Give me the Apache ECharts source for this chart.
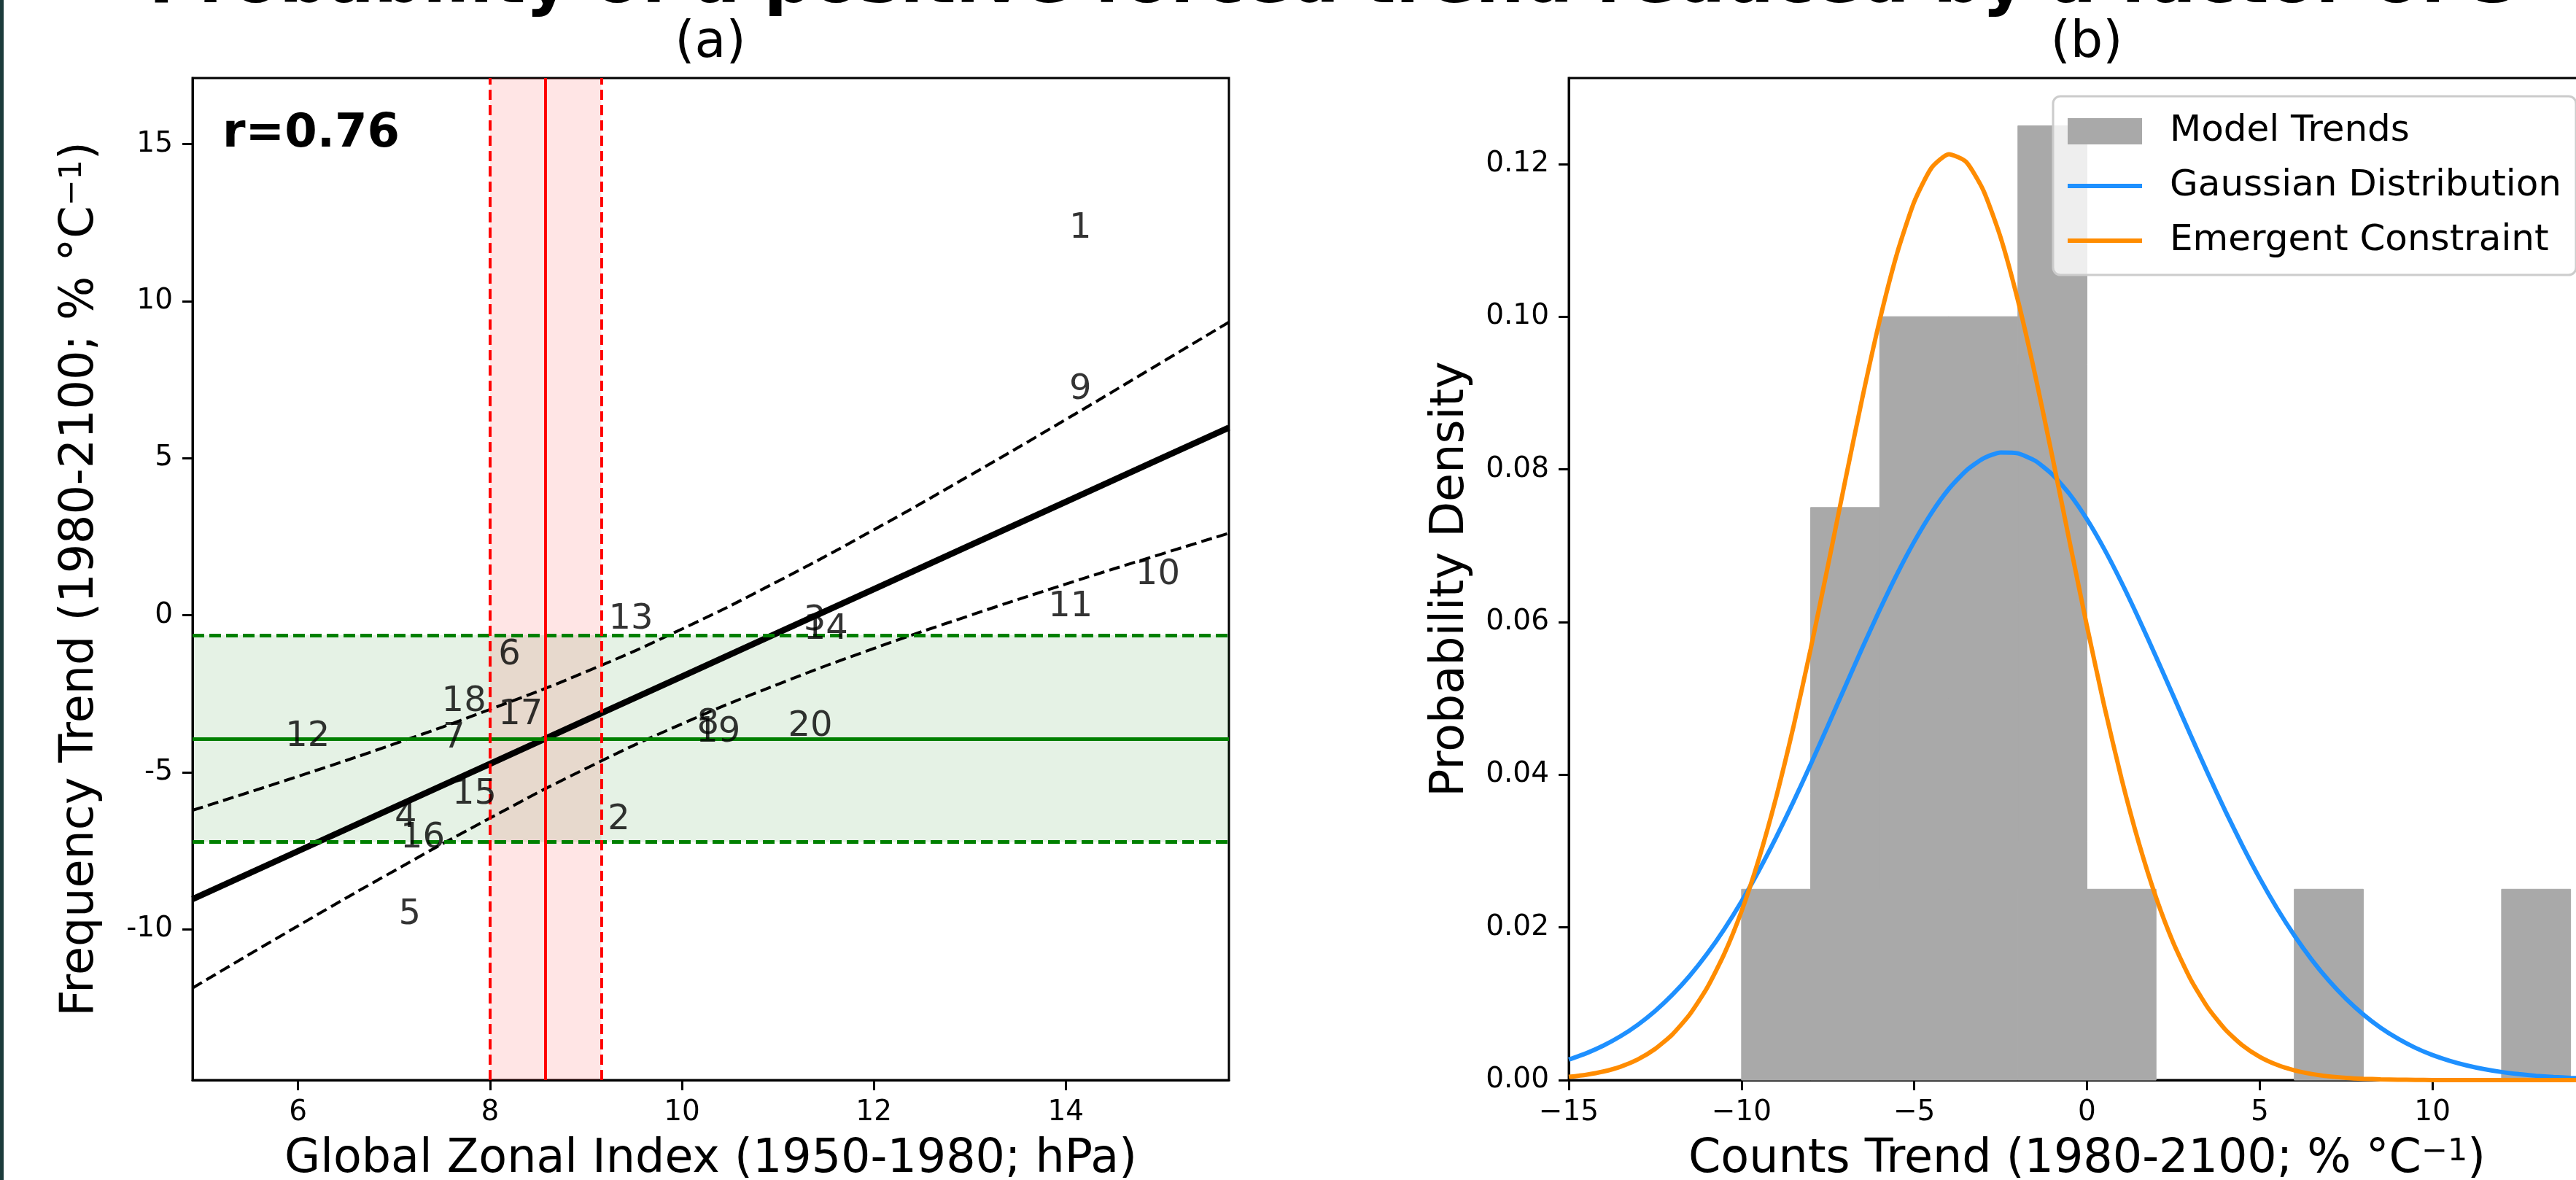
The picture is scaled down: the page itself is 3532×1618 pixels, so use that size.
<!DOCTYPE html>
<html>
<head>
<meta charset="utf-8">
<script src="https://cdn.jsdelivr.net/npm/echarts@6/dist/echarts.min.js"></script>
<style>
html,body{margin:0;padding:0;background:#fff;}
#main{width:3532px;height:1618px;}
</style>
</head>
<body>
<div id="main"></div>
<script>
// ---------------- panel (a): model scatter + regression ----------------
const modelNames = ['1','2','3','4','5','6','7','8','9','10','11','12','13','14','15','16','17','18','19','20'];
const zonalIndex = [14.04, 9.23, 11.27, 7.01, 7.05, 8.09, 7.51, 10.16, 14.04, 14.73, 13.82, 5.87, 9.24, 11.27, 7.61, 7.07, 8.09, 7.50, 10.15, 11.11];
const freqTrend  = [12.04, -6.79, -0.45, -6.72, -9.82, -1.55, -4.20, -3.75, 6.90, 1.00, -0.02, -4.15, -0.40, -0.72, -5.98, -7.38, -3.45, -3.02, -4.01, -3.82];

// regression line and its dashed envelope
const fitX     = [4.9, 6, 7, 8, 9, 10, 11, 12, 13, 14, 15, 15.7];
const fitLine  = [-9.04, -7.51, -6.12, -4.73, -3.34, -1.95, -0.56, 0.83, 2.22, 3.61, 5.00, 5.97];
const fitUpper = [-6.21, -5.13, -4.10, -3.00, -1.80, -0.44, 1.08, 2.72, 4.45, 6.23, 8.05, 9.33];
const fitLower = [-11.87, -9.89, -8.14, -6.46, -4.88, -3.46, -2.20, -1.06, -0.01, 0.99, 1.95, 2.61];

// observed index (low, mean, high) and constrained trend (low, mean, high)
const obsIndex    = [8.00, 8.58, 9.16];
const constrained = [-7.22, -3.93, -0.64];

const aXTicks = [6, 8, 10, 12, 14];
const aYTicks = [-10, -5, 0, 5, 10, 15];

// ---------------- panel (b): histogram + pdfs ----------------
const binEdges   = [-10, -8, -6, -4, -2, 0, 2, 4, 6, 8, 10, 12, 14];
const binDensity = [0.025, 0.075, 0.100, 0.100, 0.125, 0.025, 0, 0, 0.025, 0, 0, 0.025];

const curveX = [-15,-14.5,-14,-13.5,-13,-12.5,-12,-11.5,-11,-10.5,-10,-9.5,-9,-8.5,-8,-7.5,-7,-6.5,-6,-5.5,-5,-4.5,-4,-3.5,-3,-2.5,-2,-1.5,-1,-0.5,
  0,0.5,1,1.5,2,2.5,3,3.5,4,4.5,5,5.5,6,6.5,7,7.5,8,8.5,9,9.5,10,10.5,11,11.5,12,12.5,13,13.5,14,14.5,15];
const gaussPdf = [0.00268,0.00350,0.00451,0.00575,0.00725,0.00905,0.01118,0.01366,0.01652,0.01977,0.02341,0.02742,0.03177,0.03643,0.04134,
  0.04641,0.05154,0.05664,0.06159,0.06626,0.07053,0.07429,0.07742,0.07982,0.08143,0.08220,0.08209,0.08112,0.07931,0.07673,
  0.07344,0.06955,0.06517,0.06042,0.05543,0.05031,0.04518,0.04014,0.03529,0.03070,0.02642,0.02250,0.01896,0.01580,0.01303,
  0.01064,0.00859,0.00686,0.00543,0.00424,0.00328,0.00252,0.00191,0.00143,0.00106,0.00078,0.00056,0.00041,0.00029,0.00020,0.00014];
const emergentPdf = [0.00042,0.00070,0.00112,0.00176,0.00271,0.00408,0.00599,0.00860,0.01206,0.01652,0.02212,0.02894,0.03700,0.04623,0.05644,
  0.06733,0.07849,0.08941,0.09952,0.10824,0.11505,0.11949,0.12127,0.12027,0.11655,0.11037,0.10213,0.09235,0.08159,0.07045,
  0.05944,0.04900,0.03948,0.03108,0.02390,0.01797,0.01320,0.00947,0.00664,0.00455,0.00305,0.00200,0.00128,0.00080,0.00049,
  0.00029,0.00017,0.00010,0.00005,0.00003,0.00001,0.00001,0,0,0,0,0,0,0,0,0];

const bXTicks = [-15, -10, -5, 0, 5, 10, 15];
const bYTicks = [0, 0.02, 0.04, 0.06, 0.08, 0.10, 0.12];

const FONT = 'DejaVu Sans';
const titleText = 'Probability of a positive forced trend reduced by a factor of 3';

function pairs(xs, ys){
    let out=[];
    for(let i=0;i<xs.length;i++){ out.push([xs[i], ys[i]]); }
    return out;
}

function axisCommon(ticks, fmt, margin){
    return {
        axisLine: { show: true, onZero: false, lineStyle: { color: '#000', width: 3 } },
        axisTick: { show: true, length: 14, customValues: ticks, lineStyle: { color: '#000', width: 3 } },
        axisLabel: { customValues: ticks, formatter: fmt, fontSize: 39, fontFamily: FONT, color: '#000', margin: margin },
        splitLine: { show: false }
    };
}

// axis-name style, with a raised "-1" like the mathtext superscript
function nameStyle(){
    return {
        fontSize: 63.5, fontFamily: FONT, color: '#000',
        rich: {
            sup: { fontSize: 43, fontFamily: FONT, color: '#000', lineHeight: 43, verticalAlign: 'top', padding: [0, 0, 40, 0] }
        }
    };
}

let chart = echarts.init(document.getElementById('main'));

let histData = [];
for(let i=0;i<binDensity.length;i++){
    if(binDensity[i] > 0) histData.push([binEdges[i], binEdges[i+1], binDensity[i]]);
}

const lineIcon = 'path://M0,0h102v6h-102z';

let option = {
    animation: false,
    backgroundColor: '#fff',
    grid: [
        { left: 264, top: 107, width: 1421, height: 1374, show: true, borderColor: '#000', borderWidth: 3, outerBoundsMode: 'none', containLabel: false },
        { left: 2151, top: 107, width: 1421, height: 1374, show: true, borderColor: '#000', borderWidth: 3, outerBoundsMode: 'none', containLabel: false }
    ],
    xAxis: [
        Object.assign({
            type: 'value', gridIndex: 0, min: 4.9, max: 15.7,
            name: 'Global Zonal Index (1950-1980; hPa)', nameLocation: 'middle', nameGap: 77,
            nameTextStyle: nameStyle()
        }, axisCommon(aXTicks, v => String(v), 25)),
        Object.assign({
            type: 'value', gridIndex: 1, min: -15, max: 15,
            name: 'Counts Trend (1980-2100; % °C{sup|\u22121})', nameLocation: 'middle', nameGap: 77,
            nameTextStyle: nameStyle()
        }, axisCommon(bXTicks, v => v < 0 ? '\u2212' + (-v) : String(v), 25))
    ],
    yAxis: [
        Object.assign({
            type: 'value', gridIndex: 0, min: -14.8, max: 17.1,
            name: 'Frequency Trend (1980-2100; % °C{sup|\u22121})', nameLocation: 'middle', nameGap: 122,
            nameTextStyle: nameStyle()
        }, axisCommon(aYTicks, v => String(v), 27)),
        Object.assign({
            type: 'value', gridIndex: 1, min: 0, max: 0.13125,
            name: 'Probability Density', nameLocation: 'middle', nameGap: 130,
            nameTextStyle: nameStyle()
        }, axisCommon(bYTicks, v => v.toFixed(2), 27))
    ],
    legend: {
        left: 2815, top: 132, orient: 'vertical',
        padding: [23, 20, 22, 20],
        itemWidth: 102, itemHeight: 36, itemGap: 25,
        backgroundColor: 'rgba(255,255,255,0.8)', borderColor: '#cccccc', borderWidth: 3, borderRadius: 10,
        selectedMode: false,
        textStyle: { fontSize: 50, fontFamily: FONT, color: '#000', padding: [0, 0, 0, 33] },
        data: [
            { name: 'Model Trends', icon: 'rect' },
            { name: 'Gaussian Distribution', icon: lineIcon },
            { name: 'Emergent Constraint', icon: lineIcon }
        ]
    },
    graphic: [
        { type: 'rect', shape: { x: 0, y: 0, width: 5, height: 1618 }, style: { fill: '#1b3b3b' } },
        { type: 'text', x: 1830, y: -21, style: { text: titleText, fontSize: 93.5, fontWeight: 'bold', fontFamily: FONT, fill: '#000', align: 'center', verticalAlign: 'middle' } },
        { type: 'text', x: 974, y: 60, style: { text: '(a)', fontSize: 70, fontFamily: FONT, fill: '#000', align: 'center', verticalAlign: 'middle' } },
        { type: 'text', x: 2861, y: 60, style: { text: '(b)', fontSize: 70, fontFamily: FONT, fill: '#000', align: 'center', verticalAlign: 'middle' } },
        { type: 'text', x: 305, y: 184, z: 100, style: { text: 'r=0.76', fontSize: 64, fontWeight: 'bold', fontFamily: FONT, fill: '#000', align: 'left', verticalAlign: 'middle' } }
    ],
    series: [
        // bands and reference lines of panel (a)
        {
            type: 'line', xAxisIndex: 0, yAxisIndex: 0, data: [], silent: true,
            markArea: {
                silent: true,
                data: [
                    [{ yAxis: constrained[0], itemStyle: { color: 'rgba(0,128,0,0.1)' } }, { yAxis: constrained[2] }],
                    [{ xAxis: obsIndex[0], itemStyle: { color: 'rgba(255,0,0,0.1)' } }, { xAxis: obsIndex[2] }]
                ]
            },
            markLine: {
                silent: true, symbol: 'none', label: { show: false },
                data: [
                    { yAxis: constrained[0], lineStyle: { color: '#008000', width: 5, type: [16, 7] } },
                    { yAxis: constrained[1], lineStyle: { color: '#008000', width: 5, type: 'solid' } },
                    { yAxis: constrained[2], lineStyle: { color: '#008000', width: 5, type: [16, 7] } },
                    { xAxis: obsIndex[0], lineStyle: { color: '#ff0000', width: 4, type: [14, 7] } },
                    { xAxis: obsIndex[1], lineStyle: { color: '#ff0000', width: 4, type: 'solid' } },
                    { xAxis: obsIndex[2], lineStyle: { color: '#ff0000', width: 4, type: [14, 7] } }
                ]
            }
        },
        {
            type: 'line', xAxisIndex: 0, yAxisIndex: 0, data: pairs(fitX, fitUpper),
            smooth: true, symbol: 'none', z: 3,
            lineStyle: { color: '#000', width: 4, type: [15, 7] }
        },
        {
            type: 'line', xAxisIndex: 0, yAxisIndex: 0, data: pairs(fitX, fitLower),
            smooth: true, symbol: 'none', z: 3,
            lineStyle: { color: '#000', width: 4, type: [15, 7] }
        },
        {
            type: 'line', xAxisIndex: 0, yAxisIndex: 0, data: pairs(fitX, fitLine),
            symbol: 'none', z: 4,
            lineStyle: { color: '#000', width: 8.5 }
        },
        {
            type: 'scatter', xAxisIndex: 0, yAxisIndex: 0, z: 5,
            data: zonalIndex.map((x, i) => [x, freqTrend[i], modelNames[i]]),
            symbolSize: 1, itemStyle: { color: 'rgba(0,0,0,0)' },
            label: {
                show: true, position: [0, 0], align: 'left', verticalAlign: 'middle', offset: [0, -11],
                formatter: p => p.value[2], fontSize: 48, fontFamily: FONT, color: '#000'
            }
        },
        // panel (b)
        {
            name: 'Model Trends', type: 'custom', xAxisIndex: 1, yAxisIndex: 1,
            itemStyle: { color: '#a9a9a9' },
            encode: { x: [0, 1], y: 2 },
            data: histData,
            renderItem: function(params, api){
                let p0 = api.coord([api.value(0), 0]);
                let p1 = api.coord([api.value(1), api.value(2)]);
                return {
                    type: 'rect',
                    shape: { x: p0[0], y: p1[1], width: p1[0] - p0[0], height: p0[1] - p1[1] },
                    style: { fill: '#a9a9a9', stroke: '#a9a9a9', lineWidth: 1 }
                };
            }
        },
        {
            name: 'Gaussian Distribution', type: 'line', xAxisIndex: 1, yAxisIndex: 1,
            data: pairs(curveX, gaussPdf), smooth: 0.2, symbol: 'none', z: 3,
            itemStyle: { color: '#1e90ff' }, lineStyle: { color: '#1e90ff', width: 6 }
        },
        {
            name: 'Emergent Constraint', type: 'line', xAxisIndex: 1, yAxisIndex: 1,
            data: pairs(curveX, emergentPdf), smooth: 0.2, symbol: 'none', z: 3,
            itemStyle: { color: '#ff8c00' }, lineStyle: { color: '#ff8c00', width: 6 }
        }
    ]
};
chart.setOption(option);
</script>
</body>
</html>
